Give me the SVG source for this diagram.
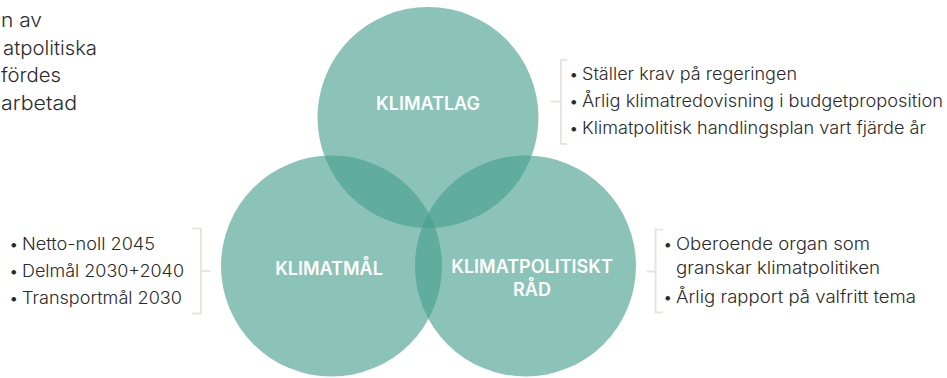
<svg xmlns="http://www.w3.org/2000/svg" width="947" height="378" viewBox="0 0 947 378">
<style>
.c{fill:#459d8b;fill-opacity:0.614}
.lbl{font-family:Inter,"Liberation Sans",sans-serif;font-weight:600;font-size:18px;fill:#ffffff;text-anchor:middle}
.t{font-family:Inter,"Liberation Sans",sans-serif;font-weight:300;font-size:17px;fill:#2b2b2b}
.p{font-family:Inter,"Liberation Sans",sans-serif;font-weight:300;font-size:19.5px;fill:#2b2b2b}
.br{fill:none;stroke:#e9e4df;stroke-width:2}
</style>
<rect width="947" height="378" fill="#ffffff"/>
<g id="intro">
<text class="p" x="1" y="27" textLength="41" lengthAdjust="spacingAndGlyphs">n av</text>
<text class="p" x="3" y="55" textLength="94" lengthAdjust="spacingAndGlyphs">atpolitiska</text>
<text class="p" x="1" y="82" textLength="60" lengthAdjust="spacingAndGlyphs">fördes</text>
<text class="p" x="1" y="110" textLength="76" lengthAdjust="spacingAndGlyphs">arbetad</text>
</g>
<g id="klimatlag">
<circle class="c" cx="428" cy="117.5" r="110.5"/>
<text class="lbl" x="428" y="110">KLIMATLAG</text>
</g>
<g id="klimatmal">
<circle class="c" cx="331.5" cy="266" r="110.5"/>
<text class="lbl" x="329" y="275">KLIMATMÅL</text>
</g>
<g id="klimatpolitiskt-rad">
<circle class="c" cx="525.5" cy="266" r="110.5"/>
<text class="lbl" x="532" y="273">KLIMATPOLITISKT</text>
<text class="lbl" x="532" y="296">RÅD</text>
</g>
<g id="connectors">
<path class="br" d="M567 60H561V144H567M561 101.5H550.5"/>
<path class="br" d="M192.5 228.5H201V313.5H192.5M201 271H210"/>
<path class="br" d="M663 229.5H655.5V312.5H663M655.5 271.5H646.5"/>
</g>
<g id="list-klimatlag">
<text class="t" x="569" y="80">•</text><text class="t" x="582" y="80" textLength="215" lengthAdjust="spacingAndGlyphs">Ställer krav på regeringen</text>
<text class="t" x="569" y="107">•</text><text class="t" x="582" y="107" textLength="361" lengthAdjust="spacingAndGlyphs">Årlig klimatredovisning i budgetproposition</text>
<text class="t" x="569" y="134">•</text><text class="t" x="582" y="134" textLength="344" lengthAdjust="spacingAndGlyphs">Klimatpolitisk handlingsplan vart fjärde år</text>
</g>
<g id="list-klimatmal">
<text class="t" x="9" y="250">•</text><text class="t" x="22" y="250" textLength="133" lengthAdjust="spacingAndGlyphs">Netto-noll 2045</text>
<text class="t" x="9" y="277">•</text><text class="t" x="22" y="277" textLength="162" lengthAdjust="spacingAndGlyphs">Delmål 2030+2040</text>
<text class="t" x="9" y="304">•</text><text class="t" x="22" y="304" textLength="160" lengthAdjust="spacingAndGlyphs">Transportmål 2030</text>
</g>
<g id="list-rad">
<text class="t" x="663" y="250">•</text><text class="t" x="676" y="250" textLength="194" lengthAdjust="spacingAndGlyphs">Oberoende organ som</text>
<text class="t" x="676" y="274" textLength="204" lengthAdjust="spacingAndGlyphs">granskar klimatpolitiken</text>
<text class="t" x="663" y="303">•</text><text class="t" x="676" y="303" textLength="240" lengthAdjust="spacingAndGlyphs">Årlig rapport på valfritt tema</text>
</g>
</svg>
